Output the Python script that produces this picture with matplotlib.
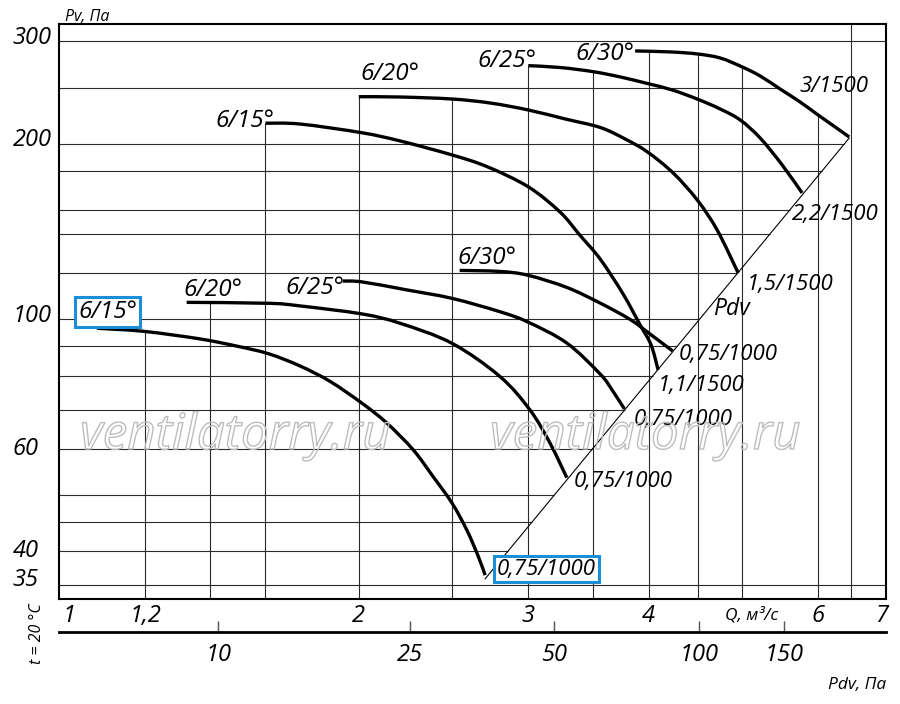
import numpy as np
import matplotlib
matplotlib.use('Agg')
import matplotlib.pyplot as plt
from matplotlib import patheffects
from matplotlib.ticker import NullLocator
from matplotlib.path import Path
from matplotlib.patches import PathPatch

plt.rcParams['font.family'] = ['Open Sans', 'DejaVu Sans']
plt.rcParams['font.style'] = 'italic'

# ---------------- data ----------------
# Q, m3/s  and  Pv, Pa
q_1000_15 = [1.069, 1.197, 1.368, 1.494, 1.613, 1.738, 1.867, 2.016, 2.139, 2.279, 2.390, 2.500, 2.590, 2.662, 2.706]
p_1000_15 = [96.6, 95.4, 92.6, 90.0, 87.3, 83.2, 78.3, 71.8, 66.4, 59.7, 53.7, 48.4, 43.5, 39.2, 36.4]
q_1000_20 = [1.325, 1.613, 1.738, 2.016, 2.208, 2.500, 2.804, 3.013, 3.161, 3.290]
p_1000_20 = [107.0, 106.6, 105.5, 102.2, 98.5, 91.0, 79.8, 69.9, 61.3, 53.5]
q_1000_25 = [1.925, 2.016, 2.243, 2.500, 2.804, 2.997, 3.290, 3.563, 3.666, 3.776]
p_1000_25 = [116.4, 116.0, 112.4, 108.7, 103.1, 99.0, 91.1, 80.6, 75.7, 70.2]
q_1000_30 = [2.546, 2.804, 2.997, 3.290, 3.563, 3.828, 4.015, 4.237]
p_1000_30 = [121.4, 120.9, 119.1, 113.5, 106.7, 100.0, 94.4, 88.3]
q_1500_15 = [1.600, 1.738, 2.014, 2.208, 2.500, 2.719, 2.999, 3.237, 3.396, 3.563, 3.764, 3.920, 4.025, 4.093]
p_1500_15 = [217.2, 216.5, 209.2, 202.5, 191.6, 182.9, 169.0, 152.9, 139.4, 127.0, 110.6, 97.9, 90.4, 81.9]
q_1500_20 = [2.000, 2.208, 2.500, 2.737, 2.999, 3.276, 3.563, 3.782, 3.986, 4.243, 4.494, 4.714, 4.957]
p_1500_20 = [241.2, 240.9, 239.0, 235.3, 228.9, 220.9, 213.6, 204.1, 194.1, 178.4, 160.4, 142.4, 120.2]
q_1500_25 = [3.000, 3.237, 3.503, 3.737, 3.986, 4.233, 4.494, 4.747, 4.981, 5.224, 5.507, 5.776]
p_1500_25 = [272.7, 270.7, 266.3, 260.8, 254.2, 247.7, 239.0, 229.8, 220.0, 204.9, 184.2, 164.9]
q_1500_30 = [3.874, 4.212, 4.494, 4.747, 5.005, 5.224, 5.481, 5.749, 6.001, 6.251, 6.465]
p_1500_30 = [289.0, 287.9, 285.6, 281.1, 271.3, 261.8, 248.6, 236.2, 224.4, 214.0, 205.7]

start_labels = ['6/15°', '6/20°', '6/25°', '6/30°', '6/15°', '6/20°', '6/25°', '6/30°']
end_labels = ['0,75/1000', '0,75/1000', '0,75/1000', '0,75/1000',
              '1,1/1500', '1,5/1500', '2,2/1500', '3/1500']

q_ticks = [1, 1.2, 2, 3, 4, 6, 7]
q_tick_labels = ['1', '1,2', '2', '3', '4', '6', '7']
p_ticks = [300, 200, 100, 60, 40, 35]
q_grid = [1.2, 1.4, 1.6, 2, 2.5, 3, 3.5, 4, 4.5, 5, 6, 6.5]
p_grid = [300, 250, 200, 180, 154, 140, 120, 100, 90, 80, 70, 60, 50, 45, 40, 35]
pdv_ticks = [10, 25, 50, 100, 150]
K_PDV = 4.9          # Pdv = K * Q^2  (bottom scale)

curves = [(q_1000_15, p_1000_15), (q_1000_20, p_1000_20), (q_1000_25, p_1000_25), (q_1000_30, p_1000_30),
          (q_1500_15, p_1500_15), (q_1500_20, p_1500_20), (q_1500_25, p_1500_25), (q_1500_30, p_1500_30)]

# ---------------- layout ----------------
W, H = 900, 704
def fx(x):
    return x / W
def fy(y):
    return 1 - y / H

XLIM = (0.977, 7.06)
YLIM = (33.09, 321.1)
GRID_C = '#2a2a2a'
BLUE = '#1a8fd8'

fig = plt.figure(figsize=(9, 7.04), dpi=100)
ax = fig.add_axes([fx(59.3), fy(599.3), (886 - 59.3) / W, (599.3 - 24.3) / H])
ax.set_xscale('log')
ax.set_yscale('log')
ax.set_xlim(*XLIM)
ax.set_ylim(*YLIM)
ax.set_xticks(q_ticks)
ax.set_xticklabels(q_tick_labels)
ax.xaxis.set_minor_locator(NullLocator())
ax.yaxis.set_major_locator(NullLocator())
ax.yaxis.set_minor_locator(NullLocator())
ax.tick_params(axis='x', length=0, pad=3.2, labelsize=17)
for s in ax.spines.values():
    s.set_linewidth(1.5)

# envelopes for the grid clipping
top_q, top_p = np.array(q_1500_30), np.array(p_1500_30)
low_end_p = p_1000_15[-1]

def top_env(q):
    vals = [np.interp(q, cq, cp) for cq, cp in curves if cq[0] - 1e-9 <= q <= cq[-1] + 1e-9]
    return max(vals) if vals else YLIM[1]

def right_env(p):
    if p > top_p.max():
        return XLIM[1]
    if p >= top_p[-1]:
        return float(np.interp(p, top_p[::-1], top_q[::-1]))
    if p >= low_end_p:
        return float(np.sqrt(p / K_PDV))
    return XLIM[1]

for q in q_grid:
    ax.vlines(q, YLIM[0], top_env(q), colors=GRID_C, lw=0.8, zorder=1)
for p in p_grid:
    ax.hlines(p, XLIM[0], right_env(p), colors=GRID_C, lw=0.8, zorder=1)

# y labels (left aligned)
y_off = {300: 3, 200: 4, 100: 3, 60: 0, 40: 0, 35: 5}
for v in p_ticks:
    ax.annotate(str(v), xy=(-0.0565, v), xycoords=('axes fraction', 'data'),
                xytext=(0, y_off[v]), textcoords='offset pixels',
                ha='left', va='center', fontsize=17, annotation_clip=False)

# diagonal Pdv line
qd = np.array([q_1000_15[-1], q_1500_30[-1]])
ax.plot(qd, K_PDV * qd ** 2, color='black', lw=0.8, zorder=3)


def smooth_path(q, p):
    """Bezier path through the read points (Catmull-Rom tangents in log space)."""
    pts = np.column_stack([np.log10(q), np.log10(p)])
    n = len(pts)
    verts = [pts[0]]
    codes = [Path.MOVETO]
    for i in range(n - 1):
        p0 = pts[i - 1] if i > 0 else pts[i]
        p1, p2 = pts[i], pts[i + 1]
        p3 = pts[i + 2] if i + 2 < n else pts[i + 1]
        verts += [p1 + (p2 - p0) / 6.0, p2 - (p3 - p1) / 6.0, p2]
        codes += [Path.CURVE4] * 3
    return Path(10 ** np.array(verts), codes)


# curves
for cq, cp in curves:
    ax.add_patch(PathPatch(smooth_path(cq, cp), fill=False, ec='black', lw=2.4,
                           capstyle='butt', joinstyle='round', zorder=4))

# curve labels
start_off = [(-18.7, 16.3, 'left'), (-3.7, 12.8, 'left'), (1.5, -7, 'right'), (-2.5, 12.5, 'left'),
             (8.5, 2.3, 'right'), (2, 22.2, 'left'), (8, 4.7, 'right'), (-1, -2.7, 'right')]
end_off = [(12, 6), (6.6, -3.3), (9, -11), (5.8, -4), (0, -16), (8.4, -12), (-10.3, -22), (-50, 50)]
box = dict(boxstyle='square,pad=0.12', fc='white', ec=BLUE, lw=2.2)
for i, (cq, cp) in enumerate(curves):
    dx, dy, ha = start_off[i]
    ax.annotate(start_labels[i], xy=(cq[0], cp[0]), xytext=(dx, dy), textcoords='offset pixels',
                ha=ha, va='center', fontsize=17.5, zorder=6, bbox=box if i == 0 else None)
    dx, dy = end_off[i]
    ax.annotate(end_labels[i], xy=(cq[-1], cp[-1]), xytext=(dx, dy), textcoords='offset pixels',
                ha='left', va='center', fontsize=16, zorder=6, bbox=box if i == 0 else None)

# secondary Pdv axis
sec = ax.secondary_xaxis(-0.0563, functions=(lambda q: K_PDV * np.asarray(q, float) ** 2,
                                              lambda p: np.sqrt(np.clip(np.asarray(p, float), 1e-12, None) / K_PDV)))
sec.set_xticks(pdv_ticks)
sec.set_xticklabels([str(v) for v in pdv_ticks])
sec.xaxis.set_minor_locator(NullLocator())
sec.tick_params(axis='x', direction='in', length=8, width=1, color='#555555', pad=8.5, labelsize=17)
sec.spines['bottom'].set_linewidth(2)
sec.spines['top'].set_visible(False)

# free texts
fig.text(fx(65), fy(17), 'Pv, Па', ha='left', va='center', fontsize=11.5)
fig.text(fx(725), fy(615), 'Q, м³/с', ha='left', va='center', fontsize=12.5)
fig.text(fx(886), fy(685), 'Pdv, Па', ha='right', va='center', fontsize=12.5)
fig.text(fx(36.7), fy(634), 't = 20 °C', ha='center', va='center', rotation=90, fontsize=11.5)
fig.text(fx(713), fy(309), 'Pdv', ha='left', va='center', fontsize=16.5)

# watermark
for x0 in (80, 490):
    fig.text(fx(x0), fy(449), 'ventilatorry.ru', ha='left', va='baseline', fontsize=35.5,
             color='none', zorder=2,
             path_effects=[patheffects.Stroke(linewidth=1, foreground='#bdbdbd')])

fig.savefig('out.png', dpi=100)
